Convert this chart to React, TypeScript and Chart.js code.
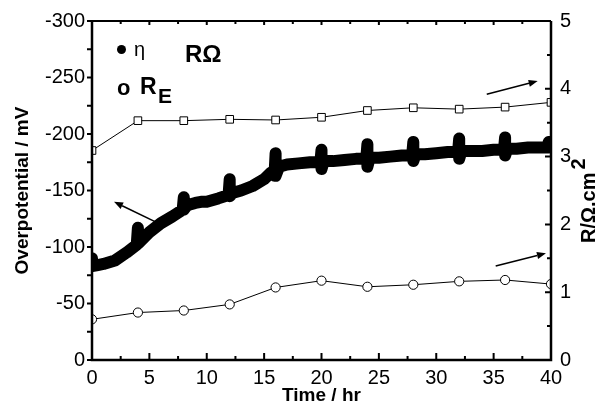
import React, { useEffect, useRef } from "react";
import { Chart, registerables } from "chart.js";

Chart.register(...registerables);

// ---------- data ----------
const rTime = [0, 4, 8, 12, 16, 20, 24, 28, 32, 36, 40];
const rOhmValues = [3.09, 3.53, 3.53, 3.55, 3.54, 3.58, 3.68, 3.72, 3.7, 3.73, 3.8];
const rEValues = [0.6, 0.7, 0.73, 0.82, 1.07, 1.17, 1.08, 1.11, 1.16, 1.18, 1.12];

// overpotential trace (mV), including the short vertical excursions at each interruption
const etaTime = [
  0, 0, 0.5, 1, 2, 3, 3.9, 4, 4, 4.2, 5, 6, 7, 7.9, 8, 8, 8.3, 9, 9.5, 10, 11, 11.9, 12, 12, 12.3,
  13, 14, 15, 15.6, 15.9, 16, 16, 16.3, 17, 18, 19, 19.9, 20, 20, 20.2, 21, 22, 23, 23.9, 24, 24,
  24.2, 25, 26, 27, 27.9, 28, 28, 28.2, 29, 30, 31, 31.9, 32, 32, 32.2, 33, 34, 35, 35.9, 36, 36,
  36.2, 37, 38, 39, 39.7, 39.8, 40,
];
const etaValues = [
  -90, -83, -84, -85, -88, -95, -102, -117, -103, -105, -113, -121, -127, -133, -144, -133, -137,
  -139, -140, -140, -143, -146, -160, -145, -148, -150, -154, -160, -166, -163, -183, -163, -171,
  -173, -174, -175, -175, -186, -169, -176, -176, -177, -178, -178, -191, -171, -179, -179, -180,
  -181, -181, -193, -176, -182, -182, -183, -184, -184, -196, -178, -185, -185, -185, -186, -186,
  -197, -181, -187, -187, -188, -188, -188, -193, -189,
];

const xTickValues = [0, 5, 10, 15, 20, 25, 30, 35, 40];
const yLeftRange = [-300, 0];
const yRightRange = [0, 5];

// annotation arrows (data coordinates)
const arrowAxis = ["y", "y2", "y2"];
const arrowStartX = [5.49, 34.4, 35.18];
const arrowStartY = [-122.4, 3.92, 1.386];
const arrowEndX = [1.92, 38.84, 39.56];
const arrowEndY = [-140, 4.115, 1.574];

const FONT = '"Liberation Sans", Arial, sans-serif';

const decor = {
  id: "decor",
  afterDatasetsDraw(chart: any) {
    const { ctx, chartArea: a, scales } = chart;
    const x = scales.x;
    const y = scales.y;
    const y2 = scales.y2;
    ctx.save();
    ctx.strokeStyle = "#000";
    ctx.fillStyle = "#000";

    // frame
    ctx.lineWidth = 2.5;
    ctx.beginPath();
    ctx.moveTo(a.left, a.top);
    ctx.lineTo(a.left, a.bottom);
    ctx.lineTo(a.right, a.bottom);
    ctx.lineTo(a.right, a.top);
    ctx.stroke();
    ctx.lineWidth = 2;
    ctx.beginPath();
    ctx.moveTo(a.left, a.top);
    ctx.lineTo(a.right, a.top);
    ctx.stroke();

    // x ticks (inward, bottom and top)
    ctx.lineWidth = 2;
    ctx.beginPath();
    for (let v = 0; v <= 40.001; v += 2.5) {
      const px = x.getPixelForValue(v);
      const major = Math.abs(v % 5) < 1e-6;
      ctx.moveTo(px, a.bottom);
      ctx.lineTo(px, a.bottom - (major ? 7 : 4));
      ctx.moveTo(px, a.top);
      ctx.lineTo(px, a.top + (major ? 4 : 3));
    }
    // left ticks (outward)
    for (let v = -300; v <= 0; v += 25) {
      const py = y.getPixelForValue(v);
      ctx.moveTo(a.left, py);
      ctx.lineTo(a.left - 5, py);
    }
    // right ticks (inward)
    for (let v = 0; v <= 5.001; v += 0.5) {
      const py = y2.getPixelForValue(v);
      const major = Math.abs(v % 1) < 1e-6;
      ctx.moveTo(a.right, py);
      ctx.lineTo(a.right - (major ? 6 : 4), py);
    }
    ctx.stroke();

    // arrows
    ctx.lineWidth = 1.5;
    for (let i = 0; i < arrowAxis.length; i++) {
      const sc = scales[arrowAxis[i]];
      const x0 = x.getPixelForValue(arrowStartX[i]);
      const y0 = sc.getPixelForValue(arrowStartY[i]);
      const x1 = x.getPixelForValue(arrowEndX[i]);
      const y1 = sc.getPixelForValue(arrowEndY[i]);
      const ang = Math.atan2(y1 - y0, x1 - x0);
      const hl = 9;
      const hw = 3.5;
      const bx = x1 - hl * Math.cos(ang);
      const by = y1 - hl * Math.sin(ang);
      ctx.beginPath();
      ctx.moveTo(x0, y0);
      ctx.lineTo(bx, by);
      ctx.stroke();
      ctx.beginPath();
      ctx.moveTo(x1, y1);
      ctx.lineTo(bx - hw * Math.sin(ang), by + hw * Math.cos(ang));
      ctx.lineTo(bx + hw * Math.sin(ang), by - hw * Math.cos(ang));
      ctx.closePath();
      ctx.fill();
    }

    // legend
    ctx.textAlign = "left";
    ctx.textBaseline = "alphabetic";
    ctx.beginPath();
    ctx.arc(121.5, 49.5, 4.5, 0, Math.PI * 2);
    ctx.fill();
    ctx.font = `20px ${FONT}`;
    ctx.fillText("η", 134, 56);
    ctx.font = `bold 24px ${FONT}`;
    ctx.fillText("RΩ", 185, 62);
    ctx.font = `bold 22px ${FONT}`;
    ctx.fillText("o", 117, 95);
    ctx.font = `bold 23px ${FONT}`;
    ctx.fillText("R", 140, 94);
    ctx.font = `bold 21px ${FONT}`;
    ctx.fillText("E", 158, 103);

    // right axis title
    ctx.save();
    ctx.translate(595, 243);
    ctx.rotate(-Math.PI / 2);
    ctx.font = `bold 20px ${FONT}`;
    const t = "R/Ω.cm";
    ctx.fillText(t, 0, 0);
    const w = ctx.measureText(t).width;
    ctx.fillText("2", w + 3, -10);
    ctx.restore();

    ctx.restore();
  },
};

export default function App() {
  const ref = useRef<HTMLCanvasElement>(null);
  useEffect(() => {
    const etaData = etaTime.map((t, i) => ({ x: t, y: etaValues[i] }));
    const rOhmData = rTime.map((t, i) => ({ x: t, y: rOhmValues[i] }));
    const rEData = rTime.map((t, i) => ({ x: t, y: rEValues[i] }));
    const tickFont = { family: FONT, size: 20 };
    const chart = new Chart(ref.current!, {
      type: "line",
      data: {
        datasets: [
          {
            label: "η",
            data: etaData,
            yAxisID: "y",
            borderColor: "#000",
            borderWidth: 12,
            borderJoinStyle: "round",
            borderCapStyle: "round",
            pointRadius: 0,
            tension: 0,
          },
          {
            label: "RΩ",
            data: rOhmData,
            yAxisID: "y2",
            borderColor: "#000",
            borderWidth: 1,
            pointStyle: "rect",
            pointRadius: 5.4,
            pointBackgroundColor: "#fff",
            pointBorderColor: "#000",
            pointBorderWidth: 1,
            tension: 0,
          },
          {
            label: "RE",
            data: rEData,
            yAxisID: "y2",
            borderColor: "#000",
            borderWidth: 1,
            pointStyle: "circle",
            pointRadius: 4.6,
            pointBackgroundColor: "#fff",
            pointBorderColor: "#000",
            pointBorderWidth: 1,
            tension: 0,
          },
        ],
      },
      options: {
        responsive: false,
        animation: false,
        devicePixelRatio: 1,
        layout: { padding: { top: 21, left: 0, right: 0, bottom: 0 } },
        plugins: { legend: { display: false }, tooltip: { enabled: false } },
        scales: {
          x: {
            type: "linear",
            min: 0,
            max: 40,
            afterBuildTicks: (s: any) => {
              s.ticks = xTickValues.map((v) => ({ value: v }));
            },
            afterFit: (s: any) => {
              s.height = 45;
            },
            grid: { display: false, drawTicks: false },
            border: { display: false },
            ticks: { font: tickFont, color: "#000", padding: 6, maxRotation: 0, autoSkip: false },
            title: {
              display: true,
              text: "Time / hr",
              font: { family: FONT, size: 19, weight: "bold" },
              color: "#000",
              padding: { top: 0, bottom: -2 },
            },
          },
          y: {
            type: "linear",
            position: "left",
            min: yLeftRange[0],
            max: yLeftRange[1],
            reverse: true,
            afterFit: (s: any) => {
              s.width = 92;
            },
            grid: { display: false, drawTicks: false },
            border: { display: false },
            ticks: { stepSize: 50, font: tickFont, color: "#000", padding: 7 },
            title: {
              display: true,
              text: "Overpotential / mV",
              font: { family: FONT, size: 19, weight: "bold" },
              color: "#000",
              padding: { top: 11, bottom: 0 },
            },
          },
          y2: {
            type: "linear",
            position: "right",
            min: yRightRange[0],
            max: yRightRange[1],
            afterFit: (s: any) => {
              s.width = 47;
            },
            grid: { display: false, drawTicks: false },
            border: { display: false },
            ticks: { stepSize: 1, font: tickFont, color: "#000", padding: 9 },
          },
        },
      },
      plugins: [decor],
    } as any);
    return () => chart.destroy();
  }, []);
  return (
    <div style={{ position: "fixed", left: 0, top: 0, width: 598, height: 405, background: "#fff" }}>
      <canvas ref={ref} width={598} height={405} style={{ display: "block" }} />
    </div>
  );
}
